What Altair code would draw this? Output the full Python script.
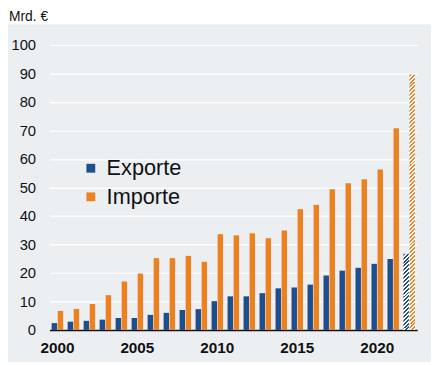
import altair as alt
import pandas as pd

years = list(range(2000, 2023))
exports = [2.4, 2.9, 3.2, 3.6, 4.2, 4.2, 5.3, 6.0, 7.0, 7.3, 10.1, 11.8, 11.8, 12.9,
           14.6, 14.9, 15.9, 19.1, 20.8, 21.8, 23.2, 24.9, 26.7]
imports = [6.7, 7.4, 9.1, 12.2, 17.0, 19.8, 25.2, 25.2, 26.0, 23.9, 33.6, 33.2, 33.9, 32.2,
           34.9, 42.4, 43.9, 49.4, 51.5, 52.9, 56.3, 70.8, 89.6]
series = ["Exporte", "Importe"]
colors = ["#1f4e8a", "#ec8121"]
forecast_year = 2022
unit_label = ["Mrd. €"]
y_ticks = list(range(0, 101, 10))
x_label_years = [2000, 2005, 2010, 2015, 2020]

rows = []
for i, yr in enumerate(years):
    rows.append({"Jahr": yr, "Reihe": "Exporte", "Wert": exports[i]})
    rows.append({"Jahr": yr, "Reihe": "Importe", "Wert": imports[i]})
df = pd.DataFrame(rows)

W, H = 373, 289
FONT = "Liberation Sans"

x_enc = alt.X("Jahr:O",
              scale=alt.Scale(paddingInner=0.28, paddingOuter=0.14),
              axis=alt.Axis(values=x_label_years, labelAngle=0, title=None,
                            ticks=False, labelFontWeight="bold", labelFontSize=15.5,
                            labelPadding=11, labelColor="#111", domainColor="#111",
                            domainWidth=1.6, grid=False, labelFont=FONT))
xoff_enc = alt.XOffset("Reihe:N", scale=alt.Scale(domain=series, paddingInner=0.1))
y_enc = alt.Y("Wert:Q",
              scale=alt.Scale(domain=[0, 100], nice=False),
              axis=alt.Axis(values=y_ticks, title=None, ticks=False, domain=False,
                            labelFontSize=15, labelPadding=14, labelColor="#111",
                            labelFont=FONT, gridColor="#ffffff", gridWidth=1.2))


def hatch(color, value, period=4.0, w=5.5):
    h = value * H / 100.0
    k = (w + h) / (w * w + h * h)
    n = max(1, int(round((w + h) / period)))
    stops = []
    for i in range(n):
        a = i / n
        m = (i + 0.5) / n
        b = (i + 1) / n
        stops += [{"offset": a, "color": color}, {"offset": m, "color": color},
                  {"offset": m, "color": "#ffffff"}, {"offset": b, "color": "#ffffff"}]
    return {"gradient": "linear", "x1": 0, "y1": 0, "x2": w * k, "y2": h * k, "stops": stops}


# white strip above the grey panel (behind the unit label)
top_strip = alt.Chart(pd.DataFrame({"a": [0]})).mark_rect(color="#ffffff").encode(
    x=alt.value(-50), x2=alt.value(W + 20), y=alt.value(-40), y2=alt.value(-21))

unit_text = alt.Chart(pd.DataFrame({"t": unit_label})).mark_text(
    align="left", baseline="alphabetic", font=FONT, fontSize=14, color="#111"
).encode(text="t:N", x=alt.value(-41), y=alt.value(-24.5))

bars = alt.Chart(df).transform_filter(alt.datum.Jahr < forecast_year).mark_bar().encode(
    x=x_enc, xOffset=xoff_enc, y=y_enc,
    color=alt.Color("Reihe:N", scale=alt.Scale(domain=series, range=colors),
                    legend=alt.Legend(title=None, orient="none", legendX=31, legendY=114,
                                      labelFontSize=22, labelFont=FONT, labelColor="#111",
                                      symbolType="square", symbolSize=80, rowPadding=7,
                                      labelOffset=5, symbolStrokeWidth=0, padding=0)))

exp_f = exports[years.index(forecast_year)]
imp_f = imports[years.index(forecast_year)]

hatch_exp = alt.Chart(df).transform_filter(
    (alt.datum.Jahr == forecast_year) & (alt.datum.Reihe == "Exporte")
).mark_bar(fill=hatch(colors[0], exp_f)).encode(x=x_enc, xOffset=xoff_enc, y=y_enc)

hatch_imp = alt.Chart(df).transform_filter(
    (alt.datum.Jahr == forecast_year) & (alt.datum.Reihe == "Importe")
).mark_bar(fill=hatch(colors[1], imp_f)).encode(x=x_enc, xOffset=xoff_enc, y=y_enc)

chart = alt.layer(top_strip, unit_text, bars, hatch_exp, hatch_imp).properties(
    width=W, height=H,
    padding={"left": 42, "top": 35, "right": 14, "bottom": 30},
    autosize=alt.AutoSizeParams(type="none"),
    background="#eceff1",
).configure_view(stroke=None)

chart.save("out.html", embed_options={"renderer": "svg", "actions": False})
